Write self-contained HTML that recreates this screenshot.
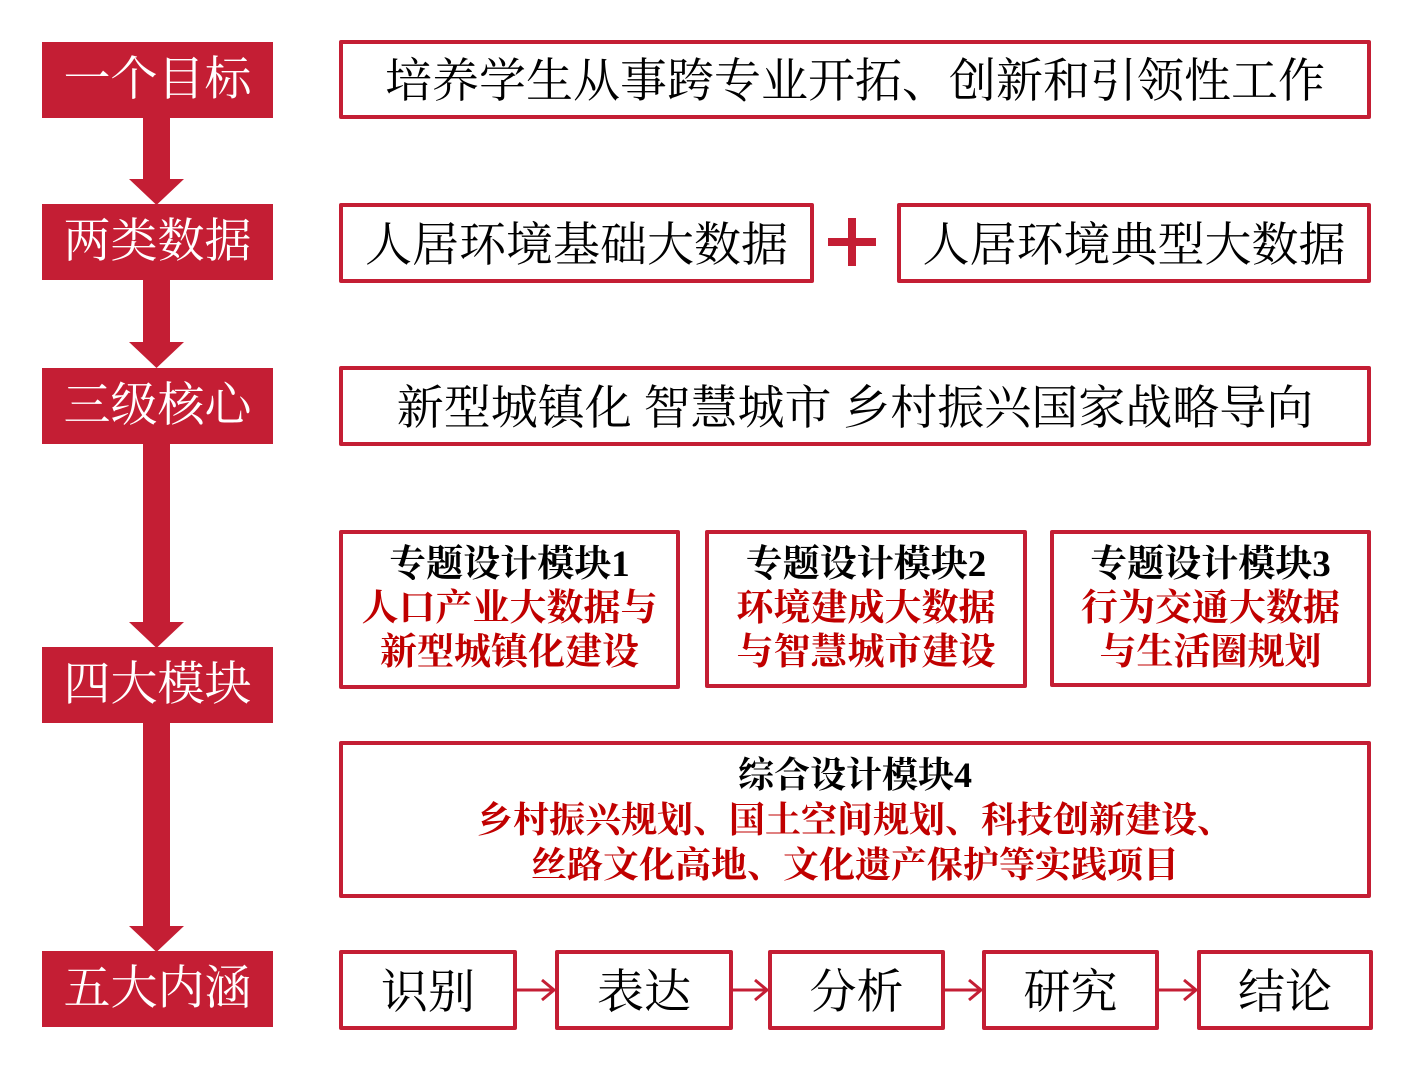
<!DOCTYPE html>
<html><head><meta charset="utf-8"><style>
body{margin:0;width:1414px;height:1066px;background:#fff;position:relative;overflow:hidden;font-family:"Liberation Serif","Noto Serif CJK SC",serif}
.l{position:absolute;left:42px;width:231px;height:76px;background:#c41e34;color:#fff;font-size:47px;line-height:76px;text-align:center}
.b{position:absolute;border:4px solid #c41e34;box-sizing:border-box;text-align:center;color:#000;border-radius:2px}
.t{font-size:47px;display:flex;align-items:center;justify-content:center;padding-bottom:4px}
.m{font-size:37px;line-height:44px;font-weight:bold;padding-top:9px}
.r{color:#c00000}
</style></head><body>
<svg width="1414" height="1066" style="position:absolute;left:0;top:0">
<g fill="#c41e34">
<rect x="143" y="110" width="27" height="72"/><polygon points="129,179 184,179 156.5,205"/>
<rect x="143" y="275" width="27" height="70"/><polygon points="129,342 184,342 156.5,368"/>
<rect x="143" y="438" width="27" height="187"/><polygon points="129,622 184,622 156.5,648"/>
<rect x="143" y="717" width="27" height="212"/><polygon points="129,926 184,926 156.5,952"/>
<rect x="828" y="238" width="48" height="8"/><rect x="848" y="218" width="8" height="48"/>
</g>
<g stroke="#c41e34" stroke-width="3" fill="none">
<path d="M516 990H553M542 980L554 990L542 1000"/>
<path d="M732 990H766M755 980L767 990L755 1000"/>
<path d="M944 990H980M969 980L981 990L969 1000"/>
<path d="M1158 990H1195M1184 980L1196 990L1184 1000"/>
</g></svg>
<div class="l" style="top:42px">一个目标</div>
<div class="l" style="top:204px">两类数据</div>
<div class="l" style="top:368px">三级核心</div>
<div class="l" style="top:647px">四大模块</div>
<div class="l" style="top:951px">五大内涵</div>
<div class="b t" style="left:339px;top:40px;width:1032px;height:79px">培养学生从事跨专业开拓、创新和引领性工作</div>
<div class="b t" style="left:339px;top:203px;width:475px;height:80px">人居环境基础大数据</div>
<div class="b t" style="left:897px;top:203px;width:474px;height:80px">人居环境典型大数据</div>
<div class="b t" style="left:339px;top:366px;width:1032px;height:80px">新型城镇化 智慧城市 乡村振兴国家战略导向</div>
<div class="b m" style="left:339px;top:530px;width:341px;height:159px">专题设计模块1<br><span class="r">人口产业大数据与<br>新型城镇化建设</span></div>
<div class="b m" style="left:705px;top:530px;width:322px;height:158px">专题设计模块2<br><span class="r">环境建成大数据<br>与智慧城市建设</span></div>
<div class="b m" style="left:1050px;top:530px;width:321px;height:157px">专题设计模块3<br><span class="r">行为交通大数据<br>与生活圈规划</span></div>
<div class="b m" style="left:339px;top:741px;width:1032px;height:157px;font-size:36px;line-height:45px;padding-top:8px">综合设计模块4<br><span class="r">乡村振兴规划、国土空间规划、科技创新建设、<br>丝路文化高地、文化遗产保护等实践项目</span></div>
<div class="b t" style="left:339px;top:950px;width:178px;height:80px">识别</div>
<div class="b t" style="left:555px;top:950px;width:178px;height:80px">表达</div>
<div class="b t" style="left:768px;top:950px;width:177px;height:80px">分析</div>
<div class="b t" style="left:982px;top:950px;width:177px;height:80px">研究</div>
<div class="b t" style="left:1197px;top:950px;width:176px;height:80px">结论</div>
</body></html>
